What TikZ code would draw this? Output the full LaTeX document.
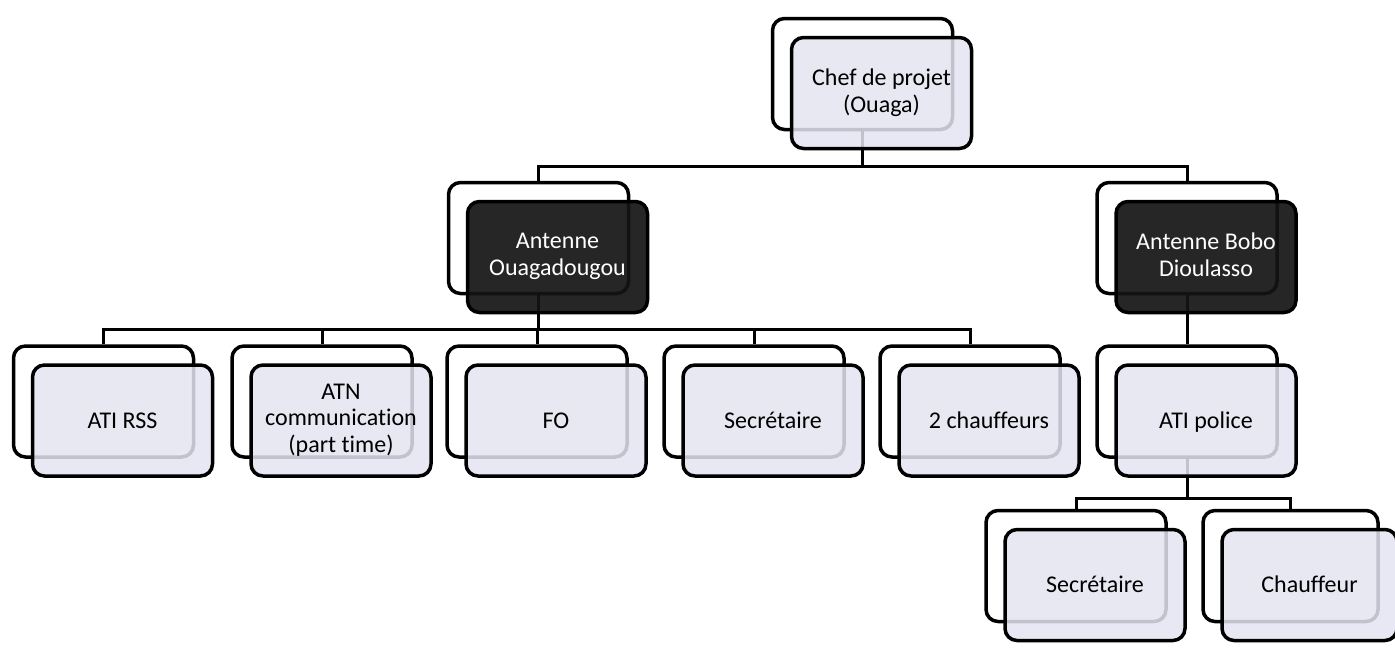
\documentclass[tikz,border=0pt]{standalone}
\usepackage{fontspec}
\setmainfont{Carlito}[Ligatures=NoCommon]
\definecolor{lav}{HTML}{E4E4F2}
\definecolor{darkfill}{HTML}{141414}
\newcommand{\boxstrut}{\rule[-5pt]{0pt}{25pt}}
\tikzset{
  backbox/.style={draw=black, line width=3.5pt, rounded corners=12pt, fill=white,
    minimum width=180pt, minimum height=111pt, inner sep=0pt},
  frontbox/.style={draw=black, line width=3.5pt, rounded corners=12pt, fill=lav,
    fill opacity=0.85, text opacity=1, minimum width=180pt, minimum height=111pt,
    inner sep=2pt, align=center, font=\fontsize{24}{26.5}\selectfont,
    execute at begin node=\boxstrut, execute at end node=\boxstrut},
  darkbox/.style={frontbox, fill=darkfill, fill opacity=0.92, text=white},
  link/.style={line width=3pt, draw=black},
}
\begin{document}
\begin{tikzpicture}[x=1pt, y=-1pt]
\useasboundingbox (0,0) rectangle (1395,662);
% back boxes
\node[backbox] (chefB) at (862.5,74) {};
\node[backbox] (ouagaB) at (538.5,238) {};
\node[backbox] (boboB) at (1187,238) {};
\node[backbox] (rssB) at (103.5,401.5) {};
\node[backbox] (atnB) at (322,401.5) {};
\node[backbox] (foB) at (537,401.5) {};
\node[backbox] (secB) at (754,401.5) {};
\node[backbox] (chfsB) at (970,401.5) {};
\node[backbox] (atipB) at (1187,401.5) {};
\node[backbox] (sec2B) at (1076,566) {};
\node[backbox, minimum width=175pt] (chf2B) at (1290.5,566) {};
% connectors
\draw[link] (chefB.south) -- ++(0,35) -| (ouagaB.north);
\draw[link] (chefB.south) -- ++(0,35) -| (boboB.north);
\foreach \c in {rssB,atnB,foB,secB,chfsB}
  \draw[link] (ouagaB.south) -- ++(0,34) -| (\c.north);
\draw[link] (boboB.south) -- (atipB.north);
\draw[link] (atipB.south) -- ++(0,40) -| (sec2B.north);
\draw[link] (atipB.south) -- ++(0,40) -| (chf2B.north);
% front boxes
\node[frontbox] (chef) at ([shift={(19,19)}]chefB.center) {Chef de projet\\(Ouaga)};
\node[darkbox] (ouaga) at ([shift={(19,19)}]ouagaB.center) {Antenne\\Ouagadougou};
\node[darkbox] (bobo) at ([shift={(19,19)}]boboB.center) {Antenne Bobo\\Dioulasso};
\node[frontbox] (rss) at ([shift={(19,19)}]rssB.center) {ATI RSS};
\node[frontbox] (atn) at ([shift={(19,19)}]atnB.center) {ATN\\communication\\(part time)};
\node[frontbox] (fo) at ([shift={(19,19)}]foB.center) {FO};
\node[frontbox] (sec) at ([shift={(19,19)}]secB.center) {Secrétaire};
\node[frontbox] (chfs) at ([shift={(19,19)}]chfsB.center) {2 chauffeurs};
\node[frontbox] (atip) at ([shift={(19,19)}]atipB.center) {ATI police};
\node[frontbox] (sec2) at ([shift={(19,19)}]sec2B.center) {Secrétaire};
\node[frontbox, minimum width=175pt] (chf2) at ([shift={(19,19)}]chf2B.center) {Chauffeur};
\end{tikzpicture}
\end{document}
